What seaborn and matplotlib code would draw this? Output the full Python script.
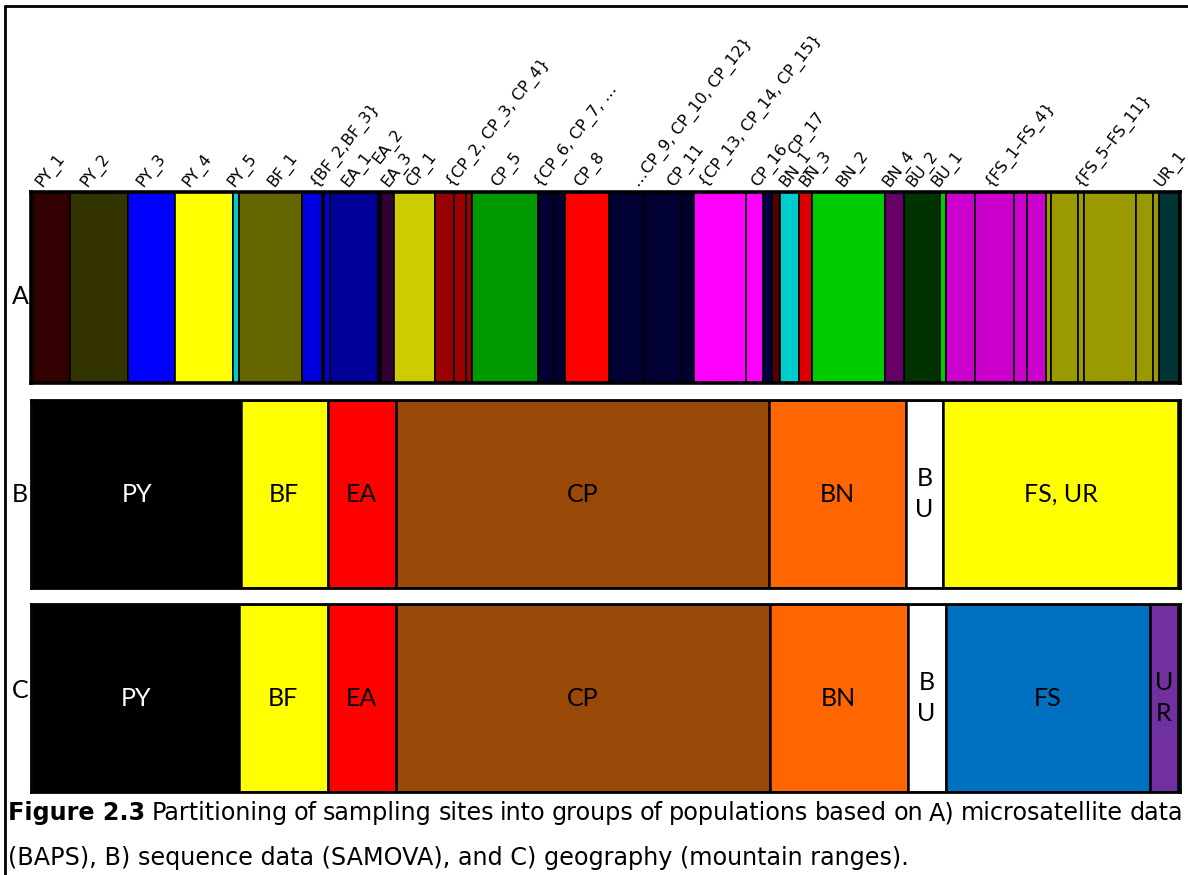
import matplotlib
matplotlib.use("Agg")
import numpy as np
import matplotlib.pyplot as plt
import seaborn as sns
from matplotlib.lines import Line2D
from matplotlib.transforms import blended_transform_factory

sns.set_theme(style="white")
plt.rcParams['font.family'] = ['DejaVu Sans']
plt.rcParams['text.color'] = 'black'

# A) microsatellite clusters (BAPS): width of each population block
a_widths = [37, 58, 47, 57.5, 6, 63.5, 20, 2, 6, 48, 3, 13, 41, 19, 12, 6, 65.5,
            16.5, 11, 44, 35, 38, 12, 51.5, 17, 9, 8.5, 18.5, 13.5, 73, 19, 36,
            6, 29, 39, 13, 19, 5, 27, 6, 52, 17, 6, 20]
a_colors = ["#330000", "#333300", "#0000ff", "#ffff00", "#00cccc", "#666600",
            "#0000dd", "#000000", "#0000dd", "#000099", "#000000", "#330033",
            "#cccc00", "#990000", "#990000", "#990000", "#009900", "#000033",
            "#000033", "#ff0000", "#000033", "#000033", "#000033", "#ff00ff",
            "#ff00ff", "#000044", "#550000", "#00cccc", "#dd0000", "#00cc00",
            "#660066", "#003300", "#00cc00", "#cc00cc", "#cc00cc", "#cc00cc",
            "#cc00cc", "#999900", "#999900", "#999900", "#999900", "#999900",
            "#999900", "#003333"]

# site labels above panel A, their position along the strip and stagger level
a_labels = ["PY_1", "PY_2", "PY_3", "PY_4", "PY_5", "BF_1", "{BF_2,BF_3}",
            "EA_1", "EA_2", "EA_3", "CP_1", "{CP_2, CP_3, CP_4}", "CP_5",
            "{CP_6, CP_7, \u2026", "CP_8", "\u2026CP_9, CP_10, CP_12}", "CP_11",
            "{CP_13, CP_14, CP_15}", "CP_16", "BN_1", "CP_17", "BN_3", "BN_2",
            "BN_4", "BU_2", "BU_1", "{FS_1\u2013FS_4}", "{FS_5\u2013FS_11}", "UR_1"]
a_label_pos = [9, 54, 110, 156, 201, 241, 283, 315, 346, 355, 380, 420, 465,
               508, 548, 606, 641, 673, 725, 753, 762, 773, 810, 856, 880, 905,
               958, 1048, 1128]
a_label_level = [0, 0, 0, 0, 0, 0, 0, 0, 1, 0, 0, 0, 0, 0, 0, 0, 0, 0, 0, 0, 2,
                 0, 0, 0, 0, 0, 0, 0, 0]

# B) sequence data (SAMOVA)
b_names = ["PY", "BF", "EA", "CP", "BN", "B\nU", "FS, UR"]
b_widths = [208, 86.5, 68, 373.5, 137, 37, 235]
b_colors = ["#000000", "#ffff00", "#ff0000", "#984807", "#ff6600", "#ffffff", "#ffff00"]

# C) geography (mountain ranges)
c_names = ["PY", "BF", "EA", "CP", "BN", "B\nU", "FS", "U\nR"]
c_widths = [205.5, 89, 68.5, 374, 137.5, 38, 204, 28.5]
c_colors = ["#000000", "#ffff00", "#ff0000", "#984807", "#ff6600", "#ffffff",
            "#0070c0", "#7030a0"]

W, H = 1188, 875
fig = plt.figure(figsize=(W / 100, H / 100), dpi=100)


def px_axes(x0, y0, x1, y1):
    return fig.add_axes([x0 / W, 1 - y1 / H, (x1 - x0) / W, (y1 - y0) / H])


def strip(ax, widths, colors, edge_lw, frame_lw):
    lefts = np.concatenate([[0], np.cumsum(widths)[:-1]])
    ax.barh(0, widths, left=lefts, height=1, color=colors,
            edgecolor="black", linewidth=edge_lw)
    ax.set_xlim(-2, 1147)
    ax.set_ylim(-0.5, 0.5)
    ax.set_xticks([])
    ax.set_yticks([])
    for sp in ax.spines.values():
        sp.set_visible(True)
        sp.set_color("black")
        sp.set_linewidth(frame_lw)
    return lefts


def name_blocks(ax, lefts, widths, names, colors):
    for l, w, n, c in zip(lefts, widths, names, colors):
        ax.text(l + w / 2, 0, n, ha="center", va="center", fontsize=18,
                family="Lato", linespacing=1.45,
                color="white" if c == "#000000" else "black")


axA = px_axes(31, 192, 1180, 383)
strip(axA, a_widths, a_colors, 1.2, 2.6)
trans = blended_transform_factory(axA.transData, axA.transAxes)
level_y = [1.026, 1.145, 1.194]
for lab, x, lv in zip(a_labels, a_label_pos, a_label_level):
    axA.text(x, level_y[lv], lab, rotation=52, rotation_mode="anchor",
             ha="left", va="baseline", fontsize=11.5, transform=trans, clip_on=False)

axB = px_axes(31, 400, 1180, 588)
lb = strip(axB, b_widths, b_colors, 1.8, 2.0)
name_blocks(axB, lb, b_widths, b_names, b_colors)

axC = px_axes(31, 604, 1180, 792)
lc = strip(axC, c_widths, c_colors, 1.8, 2.0)
name_blocks(axC, lc, c_widths, c_names, c_colors)

for letter, yp in zip(["A", "B", "C"], [297, 495, 691]):
    fig.text(20 / W, 1 - yp / H, letter, ha="center", va="center",
             fontsize=18, family="Lato")

# outer frame (top and left edges only)
fig.add_artist(Line2D([5 / W, 1], [1 - 5.5 / H, 1 - 5.5 / H], color="black",
                      lw=2, transform=fig.transFigure))
fig.add_artist(Line2D([5 / W, 5 / W], [0, 1 - 5.5 / H], color="black",
                      lw=2, transform=fig.transFigure))

# caption, first line justified
renderer = fig.canvas.get_renderer()
cap_size = 17.2
y1 = 1 - 820 / H
bold = fig.text(8 / W, y1, "Figure 2.3", weight="bold", fontsize=cap_size, va="baseline")
words = ("Partitioning of sampling sites into groups of populations based on "
         "A) microsatellite data").split()
objs = [fig.text(0, y1, w, fontsize=cap_size, va="baseline") for w in words]
wb = bold.get_window_extent(renderer).width
ww = [o.get_window_extent(renderer).width for o in objs]
gap = (1183 - 8 - wb - sum(ww)) / len(words)
x = 8 + wb + gap
for o, w in zip(objs, ww):
    o.set_x(x / W)
    x += w + gap
fig.text(8 / W, 1 - 865 / H,
         "(BAPS), B) sequence data (SAMOVA), and C) geography (mountain ranges).",
         fontsize=cap_size, va="baseline")

fig.savefig("out.png", dpi=100)
